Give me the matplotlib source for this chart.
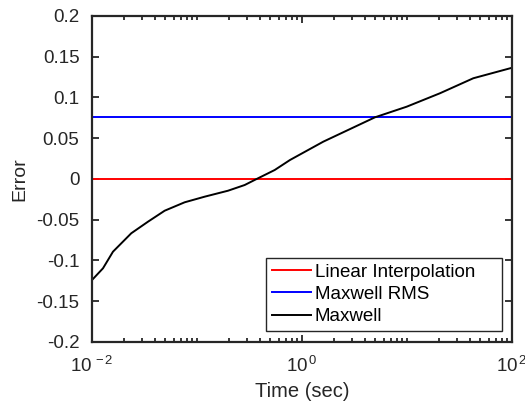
import matplotlib
matplotlib.use("Agg")
import matplotlib.pyplot as plt
from matplotlib.ticker import LogLocator, FixedLocator, NullFormatter
import numpy as np

plt.rcParams["font.family"] = ["Liberation Sans", "DejaVu Sans"]
plt.rcParams["mathtext.fontset"] = "custom"
plt.rcParams["mathtext.rm"] = "Liberation Sans"
plt.rcParams["mathtext.it"] = "Liberation Sans"

# error curve of the Maxwell model vs time
t = [0.01, 0.01273, 0.01585, 0.02367, 0.03415, 0.04926, 0.0763, 0.1184,
     0.1973, 0.2846, 0.3543, 0.5495, 0.7686, 1.596, 4.958, 9.93, 20.62,
     42.8, 95.7, 100.0]
maxwell = [-0.124, -0.1096, -0.0892, -0.0666, -0.0524, -0.0389, -0.0286,
           -0.0217, -0.0144, -0.0074, -0.0012, 0.011, 0.0233, 0.0458,
           0.0757, 0.0887, 0.1052, 0.1236, 0.1358, 0.1365]
linear_err = 0.0
maxwell_rms = 0.0755
t_range = [0.01, 100]

fig = plt.figure(figsize=(5.25, 4.05), dpi=100)
ax = fig.add_axes([0.1752, 0.1556, 0.8, 0.8049])

ax.semilogx(t_range, [linear_err, linear_err], color="#ff0000", lw=1.4, label="Linear Interpolation    ")
ax.semilogx(t_range, [maxwell_rms, maxwell_rms], color="#0000ff", lw=1.4, label="Maxwell RMS")
ax.semilogx(t, maxwell, color="black", lw=1.4, label="Maxwell")

ax.set_xlim(0.01, 100)
ax.set_ylim(-0.2, 0.2)
ax.xaxis.set_major_locator(FixedLocator([0.01, 1, 100]))
ax.xaxis.set_minor_locator(LogLocator(base=10, subs=np.arange(1, 10), numticks=20))
ax.xaxis.set_minor_formatter(NullFormatter())
ax.set_yticks(np.arange(-0.2, 0.201, 0.05))
ax.set_yticklabels(["-0.2", "-0.15", "-0.1", "-0.05", "0", "0.05", "0.1", "0.15", "0.2"])
ax.set_xticklabels([r"$10^{\,-2}$", r"$10^{\,0}$", r"$10^{\,2}$"])

ax.tick_params(which="both", direction="in", top=True, right=True,
               colors="#262626", labelsize=13.5, width=1.3)
ax.tick_params(axis="y", pad=9)
ax.tick_params(axis="x", pad=10)
ax.tick_params(which="major", length=5)
ax.tick_params(which="minor", length=3)
for s in ax.spines.values():
    s.set_linewidth(1.6)
    s.set_color("#262626")

ax.set_xlabel("Time (sec)", fontsize=14.5, color="#262626", labelpad=4)
ax.set_ylabel("Error", fontsize=14, color="#262626", labelpad=6)

leg = ax.legend(loc="lower right", bbox_to_anchor=(0.9762, 0.0337), fontsize=13.5,
                fancybox=False, framealpha=1, edgecolor="#262626",
                handlelength=2.1, handletextpad=0.2, borderpad=0.3,
                labelspacing=0.28, borderaxespad=0)
leg.get_frame().set_linewidth(1.0)

fig.savefig("out.png", dpi=100)
